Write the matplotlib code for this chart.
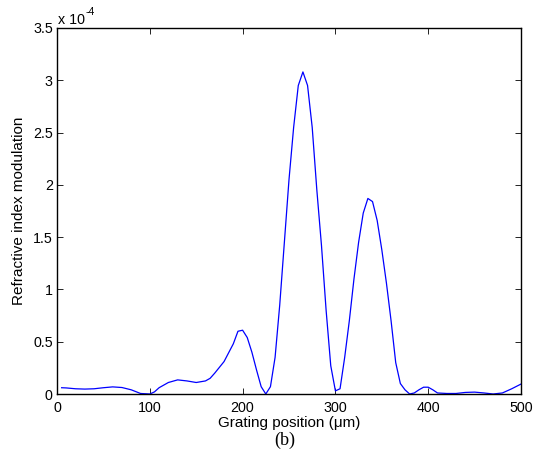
import numpy as np
import matplotlib
matplotlib.use("Agg")
import matplotlib.pyplot as plt
import matplotlib.ticker as ticker

# grating position (um) and refractive index modulation (x 1e-4)
position = [5, 10, 20, 30, 40, 50, 60, 70, 80, 90, 100, 105, 110, 120, 130, 140, 150,
            160, 165, 170, 180, 190, 195, 200, 205, 210, 215, 220, 225, 230, 235, 240,
            245, 250, 255, 260, 265, 270, 275, 280, 285, 290, 295, 300, 305, 310, 315,
            320, 325, 330, 335, 340, 345, 350, 355, 360, 365, 370, 375, 380, 385, 390,
            395, 400, 405, 410, 420, 430, 440, 450, 460, 470, 480, 490, 500]
modulation = [0.06, 0.058, 0.05, 0.047, 0.05, 0.06, 0.068, 0.062, 0.04, 0.005, 0.0, 0.02,
              0.06, 0.11, 0.135, 0.125, 0.11, 0.125, 0.15, 0.2, 0.31, 0.48, 0.6, 0.61,
              0.54, 0.4, 0.23, 0.07, 0.0, 0.07, 0.35, 0.85, 1.45, 2.05, 2.55, 2.95, 3.08,
              2.95, 2.55, 1.95, 1.42, 0.8, 0.27, 0.03, 0.05, 0.35, 0.7, 1.1, 1.45, 1.73,
              1.87, 1.84, 1.66, 1.38, 1.06, 0.7, 0.3, 0.1, 0.04, 0.0, 0.01, 0.04, 0.065,
              0.065, 0.04, 0.01, 0.005, 0.005, 0.015, 0.018, 0.01, 0.0, 0.01, 0.05, 0.095]

xticks = [0, 100, 200, 300, 400, 500]
yticks = [0, 0.5, 1, 1.5, 2, 2.5, 3, 3.5]

plt.rcParams["font.family"] = ["Liberation Sans", "DejaVu Sans"]

fig = plt.figure(figsize=(5.42, 4.54), dpi=100)
ax = fig.add_axes([57 / 542, 60 / 454, 464 / 542, 366 / 454])

ax.plot(position, modulation, color="#0000ff", linewidth=0.9)

ax.set_xlim(0, 500)
ax.set_ylim(0, 3.5)
ax.set_xticks(xticks)
ax.set_yticks(yticks)
ax.yaxis.set_major_formatter(ticker.FuncFormatter(lambda v, p: "%g" % v))
ax.tick_params(direction="in", length=4, width=0.6, top=True, right=True,
               labelsize=10.3)
ax.tick_params(axis="x", pad=5)
ax.tick_params(axis="y", pad=3)
for s in ax.spines.values():
    s.set_linewidth(1.0)

# exponent label in MATLAB style
ax.text(0.002, 1.004, "x 10", transform=ax.transAxes, fontsize=10.3,
        ha="left", va="bottom")
ax.text(0.062, 1.03, "-4", transform=ax.transAxes, fontsize=7.5,
        ha="left", va="bottom")

ax.set_xlabel("Grating position (\u03bcm)", fontsize=11, labelpad=1)
ax.set_ylabel("Refractive index modulation", fontsize=11, labelpad=5)

fig.text(285 / 542, 1 - 440 / 454, "(b)", fontsize=13, family="Liberation Serif",
         ha="center", va="center")

fig.savefig("out.png", dpi=100)
